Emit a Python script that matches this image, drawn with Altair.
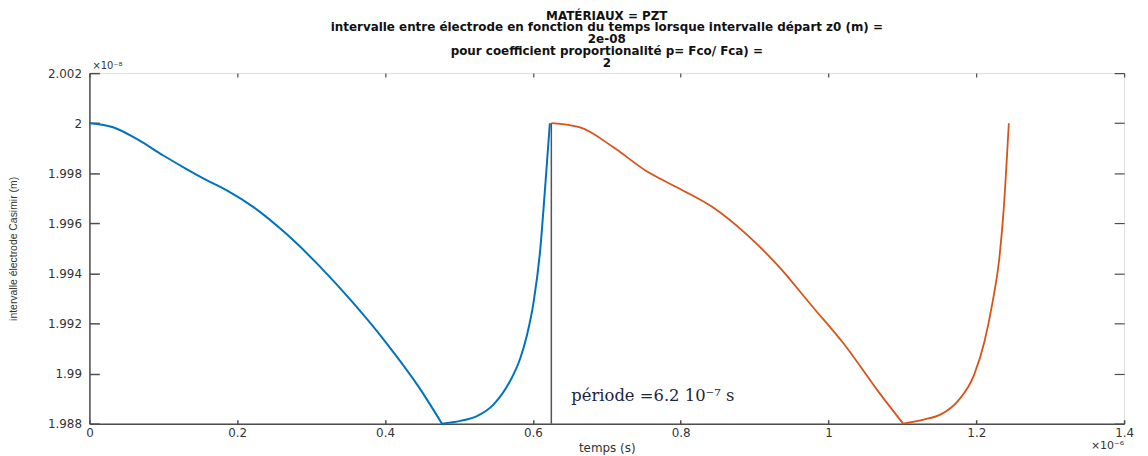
import altair as alt
import pandas as pd

# ---- data (time in 1e-6 s, gap in 1e-8 m) ----
# first cycle (blue): descending branch then rising branch
blue_down_t = [0.000, 0.033, 0.064, 0.100, 0.132, 0.154, 0.186, 0.222, 0.266, 0.311, 0.356,
               0.401, 0.446, 0.477]
blue_down_v = [2.00000, 1.99983, 1.99937, 1.99871, 1.99816, 1.99780, 1.99732, 1.99665, 1.99559,
               1.99430, 1.99285, 1.99125, 1.98945, 1.98800]
blue_up_t = [0.477, 0.502, 0.525, 0.547, 0.569, 0.583, 0.592, 0.601, 0.610, 0.616, 0.623]
blue_up_v = [1.98800, 1.98811, 1.98831, 1.98877, 1.98969, 1.99061, 1.99153, 1.99285, 1.99496,
             1.99720, 2.00000]

# second cycle (orange)
orange_down_t = [0.625, 0.664, 0.708, 0.753, 0.798, 0.843, 0.888, 0.932, 0.977, 1.022, 1.067,
                 1.101]
orange_down_v = [2.00000, 1.99983, 1.99906, 1.99810, 1.99739, 1.99665, 1.99559, 1.99430, 1.99272,
                 1.99114, 1.98930, 1.98800]
orange_up_t = [1.101, 1.130, 1.152, 1.175, 1.197, 1.211, 1.222, 1.231, 1.237, 1.244]
orange_up_v = [1.98800, 1.98817, 1.98837, 1.98890, 1.98995, 1.99127, 1.99285, 1.99456, 1.99654,
               2.00000]

period_t = [0.625]
period_v0 = [1.988]
period_v1 = [2.000]

x_ticks = [0, 0.2, 0.4, 0.6, 0.8, 1.0, 1.2, 1.4]
y_ticks = [1.988, 1.990, 1.992, 1.994, 1.996, 1.998, 2.000, 2.002]

title_lines = [
    "MATÉRIAUX = PZT",
    "intervalle entre électrode en fonction du temps lorsque intervalle départ z0 (m) =",
    "2e-08",
    "pour coefficient proportionalité p= Fco/ Fca) =",
    "2",
]
x_title = "temps (s)"
y_title = "intervalle électrode Casimir (m)"
note_text = ["période =6.2 10⁻⁷ s"]
note_t = [0.652]
note_v = [1.9891]
exp_y_text = ["×10⁻⁸"]
exp_x_text = ["×10⁻⁶"]

W, H = 1042, 353
SANS = "DejaVu Sans"
LBL = "#333333"
BLUE = "#0072BD"
ORANGE = "#D95319"


def branches(down_t, down_v, up_t, up_v):
    return pd.DataFrame({
        "t": down_t + up_t,
        "v": down_v + up_v,
        "seg": ["down"] * len(down_t) + ["up"] * len(up_t),
    })


df_blue = branches(blue_down_t, blue_down_v, blue_up_t, blue_up_v)
df_orange = branches(orange_down_t, orange_down_v, orange_up_t, orange_up_v)
df_rule = pd.DataFrame({"t": period_t, "v0": period_v0, "v1": period_v1})
df_note = pd.DataFrame({"t": note_t, "v": note_v, "label": note_text})
df_expy = pd.DataFrame({"t": [0.0], "v": [2.002], "label": exp_y_text})
df_expx = pd.DataFrame({"t": [1.4], "v": [1.988], "label": exp_x_text})

xs = alt.Scale(domain=[0, 1.4], nice=False, zero=False)
ys = alt.Scale(domain=[1.988, 2.002], nice=False, zero=False)

# main axes (labels) on blue layer
blue = alt.Chart(df_blue).mark_line(color=BLUE, strokeWidth=2, interpolate="monotone").encode(
    x=alt.X("t:Q", scale=xs, axis=alt.Axis(
        orient="bottom", values=x_ticks, format=".1~f", ticks=False, grid=False,
        domain=True, domainColor="#4d4d4d", domainWidth=1.5,
        labelPadding=4, labelFont=SANS, labelFontSize=12, labelColor=LBL,
        labelFlush=False, labelOverlap=False,
        title=x_title, titleFont=SANS, titleFontSize=12, titleFontWeight="normal",
        titleColor=LBL, titleY=24, titleBaseline="middle")),
    y=alt.Y("v:Q", scale=ys, axis=alt.Axis(
        orient="left", values=y_ticks, format=".3~f", ticks=False, grid=False,
        domain=True, domainColor="#4d4d4d", domainWidth=1.5,
        labelPadding=8, labelFont=SANS, labelFontSize=12, labelColor=LBL,
        labelFlush=False, labelOverlap=False,
        title=y_title, titleFont="Liberation Sans", titleFontSize=10.5,
        titleFontWeight="normal", titleColor=LBL, titleX=-76, titleBaseline="middle")),
    detail="seg:N",
)

# inward ticks at bottom and left
orange = alt.Chart(df_orange).mark_line(color=ORANGE, strokeWidth=1.8, interpolate="monotone").encode(
    x=alt.X("t:Q", scale=xs, axis=alt.Axis(
        orient="top", offset=-H, values=x_ticks, labels=False, domain=False, grid=False,
        ticks=True, tickSize=4, tickWidth=1.5, tickColor="#4d4d4d", title=None)),
    y=alt.Y("v:Q", scale=ys, axis=alt.Axis(
        orient="right", offset=-W, values=y_ticks, labels=False, domain=False, grid=False,
        ticks=True, tickSize=10, tickWidth=1.5, tickColor="#4d4d4d", title=None)),
    detail="seg:N",
)

# inward ticks at top and right
rule = alt.Chart(df_rule).mark_rule(color="#555555", strokeWidth=1.5).encode(
    x=alt.X("t:Q", scale=xs, axis=alt.Axis(
        orient="bottom", offset=-H, values=x_ticks, labels=False, domain=False, grid=False,
        ticks=True, tickSize=4, tickWidth=1.2, tickColor="#4d4d4d", title=None)),
    y=alt.Y("v0:Q", scale=ys, axis=alt.Axis(
        orient="left", offset=-W, values=y_ticks, labels=False, domain=False, grid=False,
        ticks=True, tickSize=10, tickWidth=1.2, tickColor="#4d4d4d", title=None)),
    y2="v1:Q",
)

note = alt.Chart(df_note).mark_text(
    font="DejaVu Serif", fontSize=16.5, color="#1c2541", align="left", baseline="middle"
).encode(
    x=alt.X("t:Q", scale=xs, axis=None),
    y=alt.Y("v:Q", scale=ys, axis=None),
    text="label:N",
)

expy = alt.Chart(df_expy).mark_text(
    font=SANS, fontSize=10, color=LBL, align="left", baseline="bottom", dx=3, dy=-2
).encode(
    x=alt.X("t:Q", scale=xs, axis=None),
    y=alt.Y("v:Q", scale=ys, axis=None),
    text="label:N",
)

expx = alt.Chart(df_expx).mark_text(
    font=SANS, fontSize=11, color=LBL, align="right", baseline="middle", dy=23
).encode(
    x=alt.X("t:Q", scale=xs, axis=None),
    y=alt.Y("v:Q", scale=ys, axis=None),
    text="label:N",
)

chart = alt.layer(blue, orange, rule, note, expy, expx).resolve_axis(
    x="independent", y="independent"
).properties(
    width=W, height=H,
    title=alt.TitleParams(text=title_lines, font=SANS, fontSize=12, fontWeight="bold",
                          color="#111111", anchor="middle", frame="group",
                          lineHeight=12, offset=-9),
    autosize=alt.AutoSizeParams(type="none"),
    padding={"left": 82, "top": 64, "right": 16, "bottom": 31},
).configure_view(stroke="#4d4d4d", strokeWidth=1).configure(background="white")

chart.save("out.html", embed_options={"renderer": "svg", "actions": False})
